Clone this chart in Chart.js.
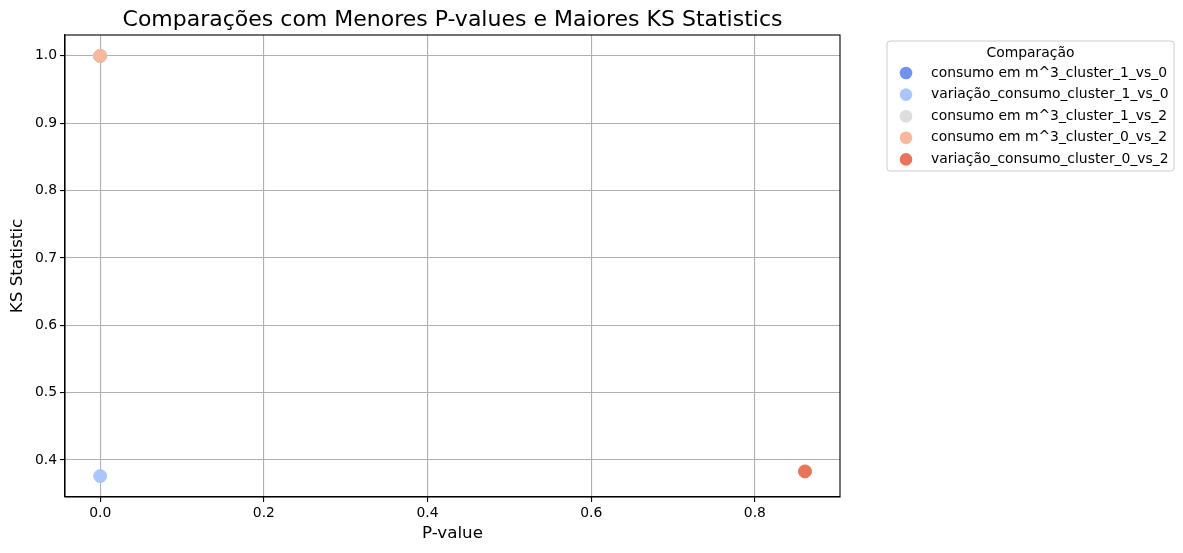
<!DOCTYPE html>
<html>
<head>
<meta charset="utf-8">
<script src="https://cdn.jsdelivr.net/npm/chart.js@4"></script>
<style>
  body { margin: 0; background: #fff; }
  #wrap { width: 1183px; height: 553px; position: relative; }
</style>
</head>
<body>
<div id="wrap"><canvas id="ksChart"></canvas></div>
<script>
const categories = [
    'consumo em m^3_cluster_1_vs_0',
    'variação_consumo_cluster_1_vs_0',
    'consumo em m^3_cluster_1_vs_2',
    'consumo em m^3_cluster_0_vs_2',
    'variação_consumo_cluster_0_vs_2'
];
const pValues = [0.0, 0.0, 0.0, 0.0, 0.8612];
const ksStats = [1.0, 0.376, 1.0, 1.0, 0.383];
const colors = ['#6f92f3', '#aac7fd', '#dddddd', '#f7b89c', '#e7745b'];

const xTicks = [0.0, 0.2, 0.4, 0.6, 0.8];
const yTicks = [0.4, 0.5, 0.6, 0.7, 0.8, 0.9, 1.0];

const FONT = "'DejaVu Sans', sans-serif";

// later series drawn on top, like seaborn
const datasets = categories.map((name, i) => ({
    label: name,
    data: [{ x: pValues[i], y: ksStats[i] }],
    backgroundColor: colors[i],
    borderColor: colors[i],
    pointRadius: 6.5,
    pointHoverRadius: 6.5,
    order: categories.length - i
}));

// title, frame and outside legend like the matplotlib figure
const extras = {
    id: 'extras',
    afterDraw(chart) {
        const ctx = chart.ctx;
        const area = chart.chartArea;
        ctx.save();

        ctx.strokeStyle = '#000';
        ctx.lineWidth = 1.1;
        ctx.strokeRect(area.left, area.top, area.right - area.left, area.bottom - area.top);

        ctx.fillStyle = '#000';
        ctx.font = '22px ' + FONT;
        ctx.textAlign = 'center';
        ctx.textBaseline = 'alphabetic';
        ctx.fillText('Comparações com Menores P-values e Maiores KS Statistics', (area.left + area.right) / 2, 26);

        // legend box
        const lx = 887, ly = 41, lw = 287, lh = 130;
        ctx.beginPath();
        ctx.roundRect(lx, ly, lw, lh, 3);
        ctx.fillStyle = 'rgba(255,255,255,0.8)';
        ctx.fill();
        ctx.strokeStyle = '#cccccc';
        ctx.lineWidth = 1;
        ctx.stroke();

        ctx.fillStyle = '#000';
        ctx.font = '13.9px ' + FONT;
        ctx.textBaseline = 'middle';
        ctx.fillText('Comparação', lx + lw / 2, 53);

        ctx.textAlign = 'left';
        chart.data.datasets.forEach((ds, i) => {
            const y = 73 + i * 21.6;
            ctx.beginPath();
            ctx.arc(906, y, 6.3, 0, Math.PI * 2);
            ctx.fillStyle = ds.backgroundColor;
            ctx.fill();
            ctx.fillStyle = '#000';
            ctx.fillText(ds.label, 931, y);
        });
        ctx.restore();
    }
};

const ctx = document.getElementById('ksChart').getContext('2d');
new Chart(ctx, {
    type: 'scatter',
    data: { datasets: datasets },
    options: {
        responsive: true,
        maintainAspectRatio: false,
        animation: false,
        layout: { padding: { top: 35, right: 343, left: 0, bottom: 0 } },
        plugins: {
            legend: { display: false },
            tooltip: { enabled: false }
        },
        scales: {
            x: {
                type: 'linear',
                min: -0.043,
                max: 0.904,
                afterBuildTicks: scale => { scale.ticks = xTicks.map(v => ({ value: v })); },
                afterFit: scale => { scale.height = 56; },
                ticks: {
                    color: '#000',
                    font: { family: FONT, size: 13.9 },
                    padding: 3,
                    maxRotation: 0,
                    callback: v => v.toFixed(1)
                },
                grid: { color: '#b0b0b0', lineWidth: 1.1, tickColor: '#000', tickLength: 5 },
                border: { color: '#000', width: 1.1 },
                title: {
                    display: true,
                    text: 'P-value',
                    color: '#000',
                    font: { family: FONT, size: 16.7 },
                    padding: { top: 0, bottom: 9 }
                }
            },
            y: {
                type: 'linear',
                min: 0.345,
                max: 1.031,
                afterBuildTicks: scale => { scale.ticks = yTicks.map(v => ({ value: v })); },
                afterFit: scale => { scale.width = 65; },
                ticks: {
                    color: '#000',
                    font: { family: FONT, size: 13.9 },
                    padding: 3,
                    callback: v => v.toFixed(1)
                },
                grid: { color: '#b0b0b0', lineWidth: 1.1, tickColor: '#000', tickLength: 5 },
                border: { color: '#000', width: 1.1 },
                title: {
                    display: true,
                    text: 'KS Statistic',
                    color: '#000',
                    font: { family: FONT, size: 16.7 },
                    padding: { top: 8, bottom: 0 }
                }
            }
        }
    },
    plugins: [extras]
});
</script>
</body>
</html>
